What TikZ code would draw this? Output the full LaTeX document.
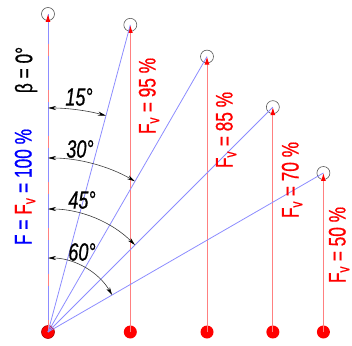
\documentclass[tikz,border=0pt]{standalone}
\usepackage{fontspec}
\setmainfont{Liberation Sans}[FakeStretch=0.72, FakeBold=0.6]
\usetikzlibrary{arrows.meta, positioning, calc}
\definecolor{forcered}{HTML}{FF0000}
\definecolor{forceline}{HTML}{FF8080}
\definecolor{resblue}{HTML}{0000FF}
\definecolor{resline}{HTML}{8C8CFF}
\definecolor{ringgray}{HTML}{5A5A5A}
\definecolor{arcink}{HTML}{3C3C3C}
\newcommand\lblfont{\fontsize{24}{28}\selectfont}
\tikzset{
  ring/.style      ={circle, draw=ringgray, line width=0.6pt, minimum size=13pt, inner sep=0pt},
  basedot/.style   ={circle, fill=forcered, minimum size=13pt, inner sep=0pt},
  force/.style     ={draw=forceline, line width=0.9pt,
                     -{Latex[length=8pt,width=5pt,color=forcered]}},
  resultant/.style ={draw=resline, line width=0.8pt},
  anglearc/.style  ={draw=arcink, line width=0.6pt,
                     {Stealth[length=8pt,width=4pt,color=black]}-{Stealth[length=8pt,width=4pt,color=black]}},
  anglelabel/.style={font=\fontsize{25}{28}\selectfont\itshape, inner sep=0pt},
  sidelabel/.style ={font=\lblfont, rotate=90, inner sep=0pt, text=forcered}
}
\begin{document}
\begin{tikzpicture}[x=1pt, y=1pt]
  \useasboundingbox (-48,-13) rectangle (304,332);
  \coordinate (O) at (0,0);

  % heads of the forces
  \node[ring] (t0)  at (90:318) {};
  \node[ring] (t15) at (75:318) {};
  \node[ring] (t30) at (60:318) {};
  \node[ring] (t45) at (45:318) {};
  \node[ring] (t60) at (30:318) {};

  % points of application
  \node[basedot, draw=red!70!black, line width=0.6pt] (b0) at (O) {};
  \node[basedot] (b15) at (t15 |- O) {};
  \node[basedot] (b30) at (t30 |- O) {};
  \node[basedot] (b45) at (t45 |- O) {};
  \node[basedot] (b60) at (t60 |- O) {};

  % vertical components
  \draw[force] (b15.center) -- (t15.center);
  \draw[force] (b30.center) -- (t30.center);
  \draw[force] (b45.center) -- (t45.center);
  \draw[force] (b60.center) -- (t60.center);

  % inclined forces
  \draw[resultant] (b0.center) -- (t0.center);
  \draw[force, dash pattern=on 12pt off 34pt] (b0.center) -- (t0.center);
  \draw[resultant] (b0.center) -- (t15.center);
  \draw[resultant] (b0.center) -- (t30.center);
  \draw[resultant] (b0.center) -- (t45.center);
  \draw[resultant] (b0.center) -- (t60.center);

  % angles
  \draw[anglearc] (O) ++(90:224) arc[start angle=90, end angle=75, radius=224pt];
  \draw[anglearc] (O) ++(90:174) arc[start angle=90, end angle=60, radius=174pt];
  \draw[anglearc] (O) ++(90:123) arc[start angle=90, end angle=45, radius=123pt];
  \draw[anglearc] (O) ++(90:74)  arc[start angle=90, end angle=30, radius=74pt];
  \node[anglelabel] (a15) at (31,235) {15°};
  \node[anglelabel] (a30) at (32,183) {30°};
  \node[anglelabel] (a45) at (34,132) {45°};
  \node[anglelabel] (a60) at (34,80)  {60°};

  % texts
  \node[sidelabel, text=black] (beta) at (-22,262) {β = 0°};
  \node[sidelabel, text=resblue] (ftot) at (-23,145)
    {F = \textcolor{forcered}{F\textsubscript{v}} = 100 \%};
  \node[sidelabel] (f95) at (101,236) {F\textsubscript{v} = 95 \%};
  \node[sidelabel] (f85) at (178,202) {F\textsubscript{v} = 85 \%};
  \node[sidelabel] (f70) at (244,152) {F\textsubscript{v} = 70 \%};
  \node[sidelabel] (f50) at (291,87)  {F\textsubscript{v} = 50 \%};
\end{tikzpicture}
\end{document}
